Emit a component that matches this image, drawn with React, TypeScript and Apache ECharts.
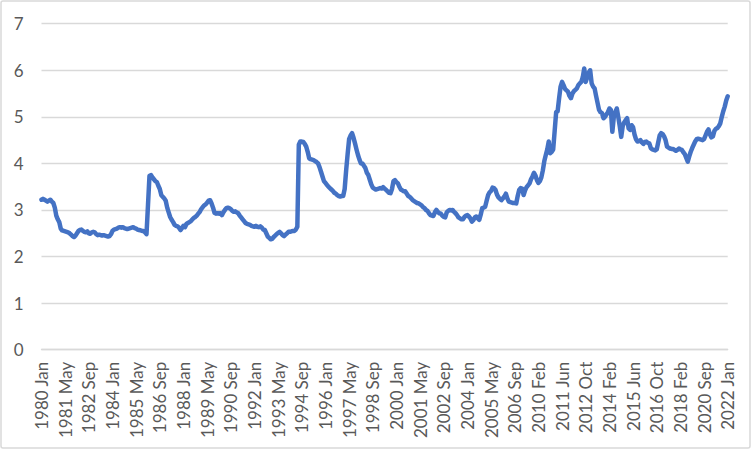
import React, { useEffect, useRef } from "react";
import * as echarts from "echarts";

const monthNames = ["Jan", "Feb", "Mar", "Apr", "May", "Jun", "Jul", "Aug", "Sep", "Oct", "Nov", "Dec"];

// contiguous monthly ranges present in the data: [startYear, startMonth(1-12), endYear, endMonth]
const monthRanges: number[][] = [
  [1980, 1, 2007, 12],
  [2010, 2, 2019, 5],
  [2020, 9, 2022, 1],
];

const values1980s = [
  3.22, 3.24, 3.22, 3.2, 3.18, 3.2, 3.22, 3.18, 3.15, 3.05, 2.88, 2.8,
  2.74, 2.6, 2.56, 2.55, 2.54, 2.53, 2.52, 2.5, 2.47, 2.44, 2.42, 2.45,
  2.5, 2.55, 2.57, 2.58, 2.55, 2.53, 2.52, 2.54, 2.5, 2.49, 2.52, 2.53,
  2.52, 2.48, 2.46, 2.47, 2.46, 2.45, 2.46, 2.45, 2.44, 2.43, 2.44, 2.48,
  2.55, 2.58, 2.59, 2.6, 2.62, 2.63, 2.62, 2.63, 2.61, 2.6, 2.59, 2.6,
  2.61, 2.62, 2.63, 2.61, 2.6, 2.58, 2.57, 2.56, 2.55, 2.55, 2.52, 2.48,
  3.1, 3.73, 3.75, 3.7, 3.66, 3.62, 3.6, 3.52, 3.45, 3.32, 3.28, 3.25,
  3.2, 3.05, 2.95, 2.85, 2.79, 2.74, 2.68, 2.66, 2.65, 2.62, 2.57, 2.61,
  2.66, 2.63, 2.7, 2.72, 2.74, 2.76, 2.8, 2.83, 2.85, 2.88, 2.92, 2.96,
  3.02, 3.06, 3.1, 3.12, 3.16, 3.2, 3.21, 3.14, 3.05, 2.94, 2.92, 2.93,
];

const values1990s = [
  2.92, 2.93, 2.89, 2.95, 3.0, 3.04, 3.05, 3.04, 3.02, 2.98, 2.96, 2.97,
  2.95, 2.93, 2.88, 2.84, 2.8, 2.76, 2.72, 2.7, 2.69, 2.68, 2.66, 2.65,
  2.64, 2.66, 2.64, 2.63, 2.65, 2.62, 2.58, 2.57, 2.5, 2.43, 2.4, 2.37,
  2.38, 2.42, 2.45, 2.48, 2.51, 2.53, 2.5, 2.46, 2.44, 2.47, 2.5, 2.53,
  2.53, 2.54, 2.55, 2.55, 2.58, 2.64, 4.4, 4.47, 4.47, 4.46, 4.42, 4.36,
  4.25, 4.11, 4.09, 4.08, 4.07, 4.05, 4.03, 4.0, 3.92, 3.82, 3.72, 3.62,
  3.58, 3.54, 3.5, 3.47, 3.44, 3.41, 3.37, 3.35, 3.32, 3.3, 3.29, 3.3,
  3.3, 3.45, 3.85, 4.2, 4.52, 4.6, 4.65, 4.55, 4.43, 4.3, 4.18, 4.08,
  4.0, 4.0, 3.95, 3.9, 3.8, 3.75, 3.65, 3.55, 3.48, 3.46, 3.44, 3.45,
  3.46, 3.47, 3.46, 3.49, 3.46, 3.43, 3.4, 3.37, 3.36, 3.45, 3.62, 3.64,
];

const values2000s = [
  3.6, 3.57, 3.5, 3.44, 3.42, 3.4, 3.4, 3.35, 3.3, 3.28, 3.25, 3.21,
  3.19, 3.17, 3.15, 3.14, 3.12, 3.1, 3.06, 3.04, 3.0, 2.98, 2.93, 2.89,
  2.88, 2.87, 2.95, 3.0, 2.96, 2.93, 2.92, 2.88, 2.85, 2.84, 2.95, 2.98,
  3.0, 2.99, 3.0, 2.96, 2.93, 2.89, 2.84, 2.82, 2.8, 2.8, 2.85, 2.88,
  2.89, 2.86, 2.82, 2.75, 2.78, 2.84, 2.86, 2.82, 2.79, 2.9, 3.04, 3.05,
  3.07, 3.2, 3.32, 3.38, 3.41, 3.48, 3.47, 3.43, 3.33, 3.27, 3.24, 3.21,
  3.25, 3.29, 3.35, 3.25, 3.18, 3.17, 3.16, 3.15, 3.15, 3.14, 3.3, 3.43,
  3.47, 3.46, 3.32, 3.42, 3.49, 3.53, 3.57, 3.66, 3.72, 3.8, 3.74, 3.64,
];

const values2010s = [
  3.58, 3.62, 3.7, 3.85, 4.05, 4.18, 4.3, 4.47, 4.22, 4.25, 4.3, 4.7,
  5.1, 5.12, 5.4, 5.65, 5.75, 5.68, 5.6, 5.57, 5.54, 5.45, 5.4, 5.5,
  5.55, 5.58, 5.61, 5.68, 5.72, 5.75, 5.85, 6.04, 5.75, 5.85, 5.95, 6.0,
  5.72, 5.65, 5.61, 5.45, 5.3, 5.15, 5.1, 5.08, 4.97, 5.0, 5.05, 5.1,
  5.18, 5.15, 4.68, 5.0, 5.1, 5.18, 5.0, 4.8, 4.57, 4.8, 4.88, 4.93,
  4.97, 4.75, 4.72, 4.82, 4.78, 4.62, 4.52, 4.47, 4.48, 4.5, 4.45, 4.42,
  4.46, 4.47, 4.44, 4.43, 4.33, 4.3, 4.29, 4.28, 4.3, 4.45, 4.6, 4.65,
  4.63, 4.58, 4.5, 4.36, 4.34, 4.32, 4.31, 4.31, 4.29, 4.27, 4.29, 4.32,
  4.3, 4.29, 4.24, 4.2, 4.12, 4.04, 4.15, 4.25, 4.33, 4.4, 4.47, 4.52,
  4.53, 4.52, 4.51, 4.5,
];

const values2020s = [
  4.52, 4.6, 4.68, 4.73, 4.62, 4.56, 4.58, 4.7, 4.74, 4.76, 4.8, 4.86,
  5.0, 5.12, 5.22, 5.35, 5.44,
];

const yTicks = { min: 0, max: 7, interval: 1 };

function buildCategories(): string[] {
  const out: string[] = [];
  for (const [sy, sm, ey, em] of monthRanges) {
    let y = sy;
    let m = sm;
    while (y < ey || (y === ey && m <= em)) {
      out.push(`${y} ${monthNames[m - 1]}`);
      m++;
      if (m > 12) {
        m = 1;
        y++;
      }
    }
  }
  return out;
}

const categories = buildCategories();
const seriesValues = [...values1980s, ...values1990s, ...values2000s, ...values2010s, ...values2020s];

export default function App() {
  const ref = useRef<HTMLDivElement>(null);
  useEffect(() => {
    document.body.style.margin = "0";
    if (!ref.current) return;
    const chart = echarts.init(ref.current, undefined, { renderer: "svg" });
    const font = "Lato, 'Liberation Sans', sans-serif";
    chart.setOption({
      animation: false,
      backgroundColor: "#ffffff",
      graphic: [
        {
          type: "rect",
          shape: { x: 1, y: 1, width: 749, height: 447, r: 2 },
          style: { fill: "none", stroke: "#d9d9d9", lineWidth: 1.5 },
          silent: true,
        },
      ],
      grid: { left: 41.5, right: 24.3, top: 23.7, bottom: 102.3, containLabel: false },
      xAxis: {
        type: "category",
        data: categories,
        boundaryGap: false,
        axisLine: { show: true, lineStyle: { color: "#d9d9d9", width: 1.3 } },
        axisTick: { show: false },
        axisLabel: {
          interval: 15,
          rotate: 90,
          margin: 12,
          color: "#595959",
          fontSize: 17,
          fontFamily: font,
        },
        splitLine: { show: false },
      },
      yAxis: {
        type: "value",
        min: yTicks.min,
        max: yTicks.max,
        interval: yTicks.interval,
        axisLine: { show: false },
        axisTick: { show: false },
        axisLabel: { margin: 18, color: "#595959", fontSize: 17, fontFamily: font },
        splitLine: { show: true, lineStyle: { color: "#d9d9d9", width: 1.3 } },
      },
      series: [
        {
          type: "line",
          data: seriesValues,
          showSymbol: false,
          symbol: "none",
          lineStyle: { color: "#4472C4", width: 4.5, join: "round", cap: "round" },
        },
      ],
    });
    return () => chart.dispose();
  }, []);
  return <div ref={ref} style={{ width: 752, height: 452 }} />;
}
